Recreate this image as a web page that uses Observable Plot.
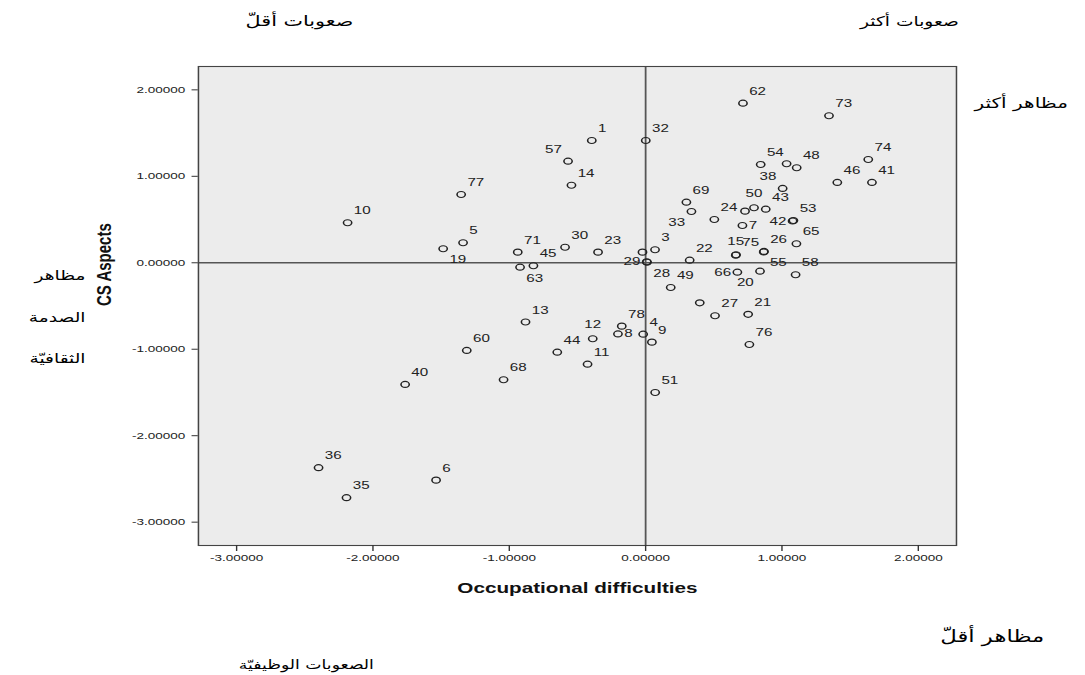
<!DOCTYPE html>
<html>
<head>
<meta charset="utf-8">
<script src="https://cdn.jsdelivr.net/npm/d3@7"></script>
<script src="https://cdn.jsdelivr.net/npm/@observablehq/plot@0.6"></script>
<style>
  html, body { margin: 0; padding: 0; background: #fff; }
  /* the whole figure is drawn on a narrow canvas, then widened */
  #page { position: relative; width: 786px; height: 675px; transform: scale(1.38, 1); transform-origin: 0 0; }
  #page svg { position: absolute; left: 0; top: 0; }
  .ar { position: absolute; font-family: "DejaVu Sans", sans-serif; color: #000;
        direction: rtl; white-space: nowrap; transform: translate(-50%, -50%); }
  .ar.side { transform: translate(-100%, -50%); text-align: right; }
</style>
</head>
<body>
<div id="page"></div>
<script>
// Respondent numbers (null = point drawn without a label)
const ids = [1, 3, 4, 5, 6, 7, 8, 9, 10, 11, 12, 13, 14, 15, 19, 20, 21, 22, 23, 24,
  26, 27, 28, 29, 30, 32, 33, 35, 36, 38, 40, 41, 42, 43, 44, 45, 46, 48, 49, 50,
  51, 53, 54, 55, 57, 58, 60, 62, 63, 65, 66, 68, 69, 71, 73, 74, 75, 76, 77, 78,
  null, null, null, null];

// Occupational difficulties (x)
const difficulties = [-0.395, 0.069, -0.018, -1.339, -1.537, 0.710, -0.203, 0.046, -2.186, -0.426,
  -0.388, -0.881, -0.544, 0.661, -1.485, 0.839, 0.752, 0.323, -0.349, 0.504,
  0.868, 0.509, 0.010, 0.008, -0.591, 0.001, 0.336, -2.194, -2.399, 1.005,
  -1.764, 1.660, 1.078, 0.881, -0.648, -0.823, 1.406, 1.108, 0.184, 0.795,
  0.070, 1.084, 0.844, 0.866, -0.569, 1.100, -1.312, 0.714, -0.921, 1.106,
  0.673, -1.042, 0.299, -0.938, 1.345, 1.633, 0.663, 0.761, -1.353, -0.175,
  1.034, 0.729, -0.023, 0.397];

// CS Aspects (y)
const aspects = [1.414, 0.150, -0.826, 0.231, -2.514, 0.431, -0.823, -0.918, 0.463, -1.173,
  -0.879, -0.685, 0.897, 0.087, 0.162, -0.097, -0.596, 0.030, 0.123, 0.501,
  0.131, -0.613, 0.006, 0.012, 0.180, 1.414, 0.593, -2.717, -2.370, 0.860,
  -1.407, 0.929, 0.483, 0.620, -1.034, -0.035, 0.929, 1.099, -0.286, 0.636,
  -1.500, 0.489, 1.137, 0.125, 1.175, -0.139, -1.014, 1.846, -0.051, 0.220,
  -0.109, -1.353, 0.701, 0.123, 1.700, 1.194, 0.093, -0.945, 0.790, -0.733,
  1.145, 0.597, 0.123, -0.463];

const xTicks = [-3, -2, -1, 0, 1, 2];
const yTicks = [-3, -2, -1, 0, 1, 2];

const xTitle = "Occupational difficulties";
const yTitle = "CS Aspects";

// Arabic annotations around the plot
const arabicTexts = ["صعوبات أقلّ", "صعوبات أكثر", "مظاهر أكثر", "مظاهر", "الصدمة", "الثقافيّة", "مظاهر أقلّ", "الصعوبات الوظيفيّة"];

// placement of those annotations on the page (canvas px before widening)
const arabicLayout = [
  {left: 217, top: 21, size: 15, side: false},
  {left: 659, top: 21, size: 13.5, side: false},
  {left: 740, top: 103, size: 14.5, side: false},
  {left: 62, top: 275, size: 13.5, side: true},
  {left: 62, top: 317, size: 13.5, side: true},
  {left: 62, top: 358, size: 13.5, side: true},
  {left: 719, top: 636, size: 16.5, side: false},
  {left: 222, top: 664, size: 12.5, side: false}
];

// where each point's label sits relative to the point (default: upper right)
const labelSpot = {57: "nw", 19: "se", 63: "se", 29: "w", 28: "se", 66: "w", 20: "sw",
  33: "sw", 38: "nw", 42: "w", 7: "e", 8: "e", 12: "n", 50: "n", 15: "n", 55: "se"};
const spotStyle = {
  ne: {textAnchor: "start", dx: 4.5, dy: -12},
  nw: {textAnchor: "end", dx: -4.5, dy: -12},
  se: {textAnchor: "start", dx: 4.5, dy: 11},
  sw: {textAnchor: "end", dx: -4.5, dy: 11},
  e: {textAnchor: "start", dx: 4.5, dy: 0},
  w: {textAnchor: "end", dx: -4.5, dy: 0},
  n: {textAnchor: "middle", dx: 0, dy: -14}
};

const rows = ids.map((id, i) => ({id, x: difficulties[i], y: aspects[i], spot: labelSpot[id] ?? "ne"}));
const fmt = d => d.toFixed(5);

const labelMarks = Object.entries(spotStyle).map(([spot, s]) =>
  Plot.text(rows.filter(d => d.id !== null && d.spot === spot), {
    x: "x", y: "y", text: d => String(d.id),
    textAnchor: s.textAnchor, dx: s.dx, dy: s.dy, lineAnchor: "middle",
    fontSize: 11, fill: "#222"
  })
);

const chart = Plot.plot({
  width: 786,
  height: 675,
  marginTop: 66,
  marginBottom: 130,
  marginLeft: 143.3,
  marginRight: 93.4,
  style: {fontFamily: "'Liberation Sans', Arial, sans-serif", fontSize: "9.8px", color: "#222", background: "transparent"},
  x: {domain: [-3.28, 2.28], label: null},
  y: {domain: [-3.27, 2.27], label: null},
  marks: [
    Plot.frame({fill: "#ececec"}),
    Plot.ruleX([0], {stroke: "#555", strokeWidth: 1.3}),
    Plot.ruleY([0], {stroke: "#555", strokeWidth: 1.3}),
    Plot.frame({stroke: "#444", strokeWidth: 1.1}),
    Plot.axisX({ticks: xTicks, tickFormat: fmt, tickSize: 6, tickPadding: 3, label: null, stroke: "#333"}),
    Plot.axisY({ticks: yTicks, tickFormat: fmt, tickSize: 4.5, tickPadding: 5, label: null, stroke: "#333"}),
    Plot.text([xTitle], {frameAnchor: "bottom", dy: 43, lineAnchor: "middle", fontSize: 15, fontWeight: "bold", fill: "#111"}),
    Plot.text([yTitle], {frameAnchor: "left", dx: -68, rotate: -90, lineAnchor: "middle", fontSize: 15, fontWeight: "bold", fill: "#111"}),
    Plot.dot(rows, {x: "x", y: "y", r: 3, stroke: "#222", strokeWidth: 1.15, fill: "none"}),
    ...labelMarks
  ]
});

const page = document.getElementById("page");
page.appendChild(chart);
arabicTexts.forEach((text, i) => {
  const p = arabicLayout[i];
  const el = document.createElement("div");
  el.className = "ar" + (p.side ? " side" : "");
  el.style.left = p.left + "px";
  el.style.top = p.top + "px";
  el.style.fontSize = p.size + "px";
  el.textContent = text;
  page.appendChild(el);
});
</script>
</body>
</html>
